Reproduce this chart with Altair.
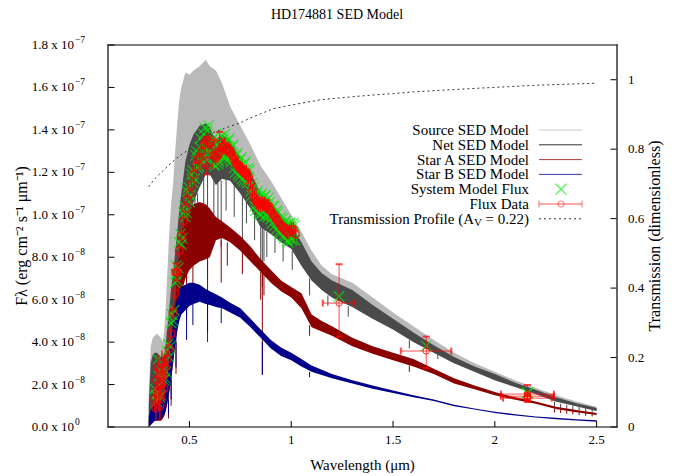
import altair as alt
import pandas as pd

# ---------------- text ----------------
TITLE = "HD174881 SED Model"
X_TITLE = "Wavelength (\u03bcm)"
Y_TITLE = "F\u03bb (erg cm\u207b\u00b2 s\u207b\u00b9 \u03bcm\u207b\u00b9)"
Y2_TITLE = "Transmission (dimensionless)"
LEGEND = ["Source SED Model", "Net SED Model", "Star A SED Model", "Star B SED Model",
          "System Model Flux", "Flux Data"]
LEG_T_MAIN = "Transmission Profile (A"
LEG_T_SUB = "V"
LEG_T_TAIL = " = 0.22)"

# ---------------- ticks ----------------
X_TICKS = [0.5, 1.0, 1.5, 2.0, 2.5]
Y_TICKS = [0, 2, 4, 6, 8, 10, 12, 14, 16, 18]          # flux in units of 1e-8
T_TICKS = [0, 0.2, 0.4, 0.6, 0.8, 1.0]
X_DOMAIN = [0.1, 2.6]
Y_DOMAIN = [0, 18]
T_DOMAIN = [0, 1.1]

# ---------------- model spectra envelopes (flux in 1e-8 erg/cm2/s/um) ----------------
LAM = [0.30, 0.31, 0.32, 0.33, 0.34, 0.35, 0.36, 0.37, 0.38, 0.39, 0.40, 0.41, 0.42, 0.43, 0.44, 0.45, 0.46,
       0.48, 0.50, 0.52, 0.55, 0.58, 0.60, 0.63, 0.66, 0.70, 0.75, 0.80, 0.85, 0.90, 0.95, 1.00,
       1.05, 1.10, 1.15, 1.20,
       1.30, 1.40, 1.50, 1.60, 1.70, 1.80, 1.90, 2.00, 2.10, 2.20, 2.30, 2.40, 2.50]
SRC_HI = [1.5, 3.8, 4.2, 4.3, 4.4, 4.3, 4.2, 4.0, 5.0, 7.0, 9.0, 10.5, 11.5, 13.0, 14.3, 15.4, 16.0,
          16.7, 16.6, 16.8, 17.0, 17.3, 17.0, 16.8, 16.2, 15.1, 14.2, 13.3, 12.3, 11.6, 10.8, 10.0,
          9.2, 8.3, 7.6, 7.2,
          6.8, 6.1, 5.4, 4.75, 4.1, 3.5, 3.0, 2.6, 2.2, 1.85, 1.5, 1.2, 0.95]
NET_HI = [1.0, 3.0, 3.4, 3.5, 3.5, 3.4, 3.3, 3.3, 3.6, 4.5, 5.5, 6.5, 7.3, 8.2, 9.2, 10.2, 11.0,
          12.5, 13.3, 13.8, 14.2, 14.3, 14.1, 13.5, 13.8, 13.5, 12.7, 12.0, 11.0, 10.6, 10.0, 9.5,
          8.7, 7.8, 7.25, 6.9,
          6.45, 5.75, 5.1, 4.45, 3.85, 3.3, 2.85, 2.5, 2.08, 1.75, 1.4, 1.12, 0.9]
NET_LO = [0.0, 0.3, 0.5, 0.7, 0.8, 0.8, 0.9, 1.0, 1.5, 2.2, 3.0, 3.8, 4.6, 5.5, 6.3, 7.0, 7.8,
          9.0, 9.8, 10.6, 11.3, 11.9, 11.9, 11.4, 11.7, 11.6, 11.0, 10.3, 9.4, 9.1, 8.7, 8.4,
          7.6, 6.9, 6.45, 6.1,
          5.65, 5.1, 4.6, 4.0, 3.5, 3.0, 2.6, 2.2, 1.88, 1.55, 1.2, 0.98, 0.75]
A_HI = [0.3, 0.6, 0.8, 1.0, 1.1, 1.1, 1.1, 1.2, 1.5, 2.2, 3.0, 4.0, 5.0, 6.2, 7.3, 8.3, 9.2,
        10.0, 10.3, 10.5, 10.6, 10.5, 10.3, 9.9, 9.7, 9.4, 9.0, 8.5, 7.9, 7.4, 6.9, 6.6,
        6.3, 5.3, 5.0, 4.75,
        4.2, 3.8, 3.5, 3.2, 2.75, 2.3, 1.95, 1.65, 1.4, 1.2, 0.95, 0.8, 0.66]
A_LO = [0.0, 0.1, 0.2, 0.3, 0.3, 0.3, 0.3, 0.4, 0.6, 1.0, 1.6, 2.2, 3.0, 3.9, 4.8, 5.6, 6.3,
        7.0, 7.4, 7.6, 7.8, 7.9, 8.0, 8.8, 8.9, 8.7, 8.3, 7.8, 7.3, 6.8, 6.4, 6.1,
        5.6, 4.7, 4.5, 4.3,
        3.8, 3.45, 3.15, 2.85, 2.5, 2.05, 1.78, 1.5, 1.28, 1.1, 0.85, 0.7, 0.57]
B_HI = [0.5, 0.8, 1.0, 1.1, 1.2, 1.3, 1.4, 1.5, 1.8, 2.4, 3.1, 4.0, 4.9, 5.6, 6.1, 6.4, 6.6,
        6.7, 6.8, 6.8, 6.7, 6.5, 6.4, 6.25, 6.1, 5.85, 5.6, 5.1, 4.6, 4.1, 3.75, 3.5,
        3.2, 2.9, 2.7, 2.5,
        2.2, 1.95, 1.72, 1.5, 1.3, 1.05, 0.87, 0.72, 0.6, 0.5, 0.43, 0.37, 0.32]
B_LO = [0.0, 0.1, 0.2, 0.3, 0.3, 0.4, 0.4, 0.5, 0.7, 1.1, 1.6, 2.3, 3.1, 3.9, 4.5, 5.0, 5.3,
        5.5, 5.7, 5.8, 5.9, 5.8, 5.75, 5.65, 5.6, 5.4, 5.15, 4.7, 4.2, 3.7, 3.35, 3.15,
        2.85, 2.6, 2.45, 2.3,
        2.05, 1.8, 1.6, 1.4, 1.22, 0.98, 0.82, 0.66, 0.54, 0.45, 0.37, 0.31, 0.25]

# absorption features (wavelength, top, bottom)
NET_SP_LAM = [0.397, 0.410, 0.434, 0.486, 0.500, 0.517, 0.527, 0.540, 0.570, 0.589, 0.620, 0.640, 0.656,
              0.680, 0.720, 0.760, 0.780, 0.820, 0.850, 0.858, 0.866, 0.880, 0.920, 0.960, 1.005, 1.09,
              1.18, 1.28, 1.58, 1.72, 2.293, 2.323, 2.353, 2.383, 2.414, 2.446, 2.478]
NET_SP_TOP = [2.5, 3.8, 5.7, 8.8, 9.8, 10.4, 10.8, 11.0, 11.8, 11.9, 11.6, 11.5, 11.6,
              11.7, 11.5, 10.9, 10.7, 10.0, 9.4, 9.4, 9.3, 9.2, 8.9, 8.6, 8.3, 7.0,
              6.2, 5.7, 4.1, 3.55, 1.2, 1.1, 1.05, 1.0, 0.97, 0.9, 0.85]
NET_SP_BOT = [1.2, 2.3, 4.0, 6.8, 8.5, 8.3, 9.0, 9.8, 9.5, 7.0, 10.0, 9.8, 8.5,
              10.2, 9.9, 8.8, 9.6, 8.8, 7.6, 6.6, 7.8, 8.0, 8.2, 7.8, 7.4, 6.2,
              5.7, 5.2, 3.7, 3.2, 0.95, 0.88, 0.85, 0.8, 0.78, 0.72, 0.68]
A_SP_LAM = [0.397, 0.410, 0.434, 0.486, 0.517, 0.589, 0.656, 0.686, 0.760, 0.850, 0.858, 0.866, 1.09, 1.58,
            2.293, 2.323, 2.353, 2.383, 2.414, 2.446, 2.478]
A_SP_TOP = [1.0, 2.2, 4.0, 7.2, 7.6, 8.0, 8.8, 8.7, 8.3, 7.3, 7.3, 7.2, 4.8, 2.9,
            0.86, 0.82, 0.78, 0.75, 0.7, 0.66, 0.62]
A_SP_BOT = [0.4, 1.0, 2.5, 5.2, 6.4, 4.0, 6.8, 7.6, 7.2, 6.0, 2.5, 6.2, 4.3, 2.6,
            0.68, 0.66, 0.62, 0.6, 0.56, 0.53, 0.5]
B_SP_LAM = [0.397, 0.410, 0.434, 0.486, 0.517, 0.589, 0.656, 0.858, 1.09]
B_SP_TOP = [1.3, 2.3, 4.0, 5.6, 5.8, 5.8, 5.6, 4.0, 2.6]
B_SP_BOT = [0.6, 1.3, 2.8, 4.1, 4.8, 4.5, 4.9, 2.45, 2.35]

# ---------------- spectrophotometric flux data + system model flux ----------------
RED_LAM = [0.330, 0.335, 0.340, 0.345, 0.350, 0.355, 0.360, 0.365, 0.370, 0.375, 0.380,
           0.39, 0.40, 0.41, 0.42, 0.43, 0.44, 0.45, 0.46, 0.47, 0.48, 0.49, 0.50,
           0.51, 0.52, 0.53, 0.54, 0.55, 0.56, 0.57, 0.58, 0.59, 0.60,
           0.61, 0.62, 0.63, 0.64, 0.65, 0.66, 0.67, 0.68, 0.69, 0.70,
           0.71, 0.72, 0.73, 0.74, 0.75, 0.76, 0.77, 0.78, 0.79, 0.80,
           0.81, 0.82, 0.83, 0.84, 0.85, 0.86, 0.87, 0.88, 0.89, 0.90,
           0.91, 0.92, 0.93, 0.94, 0.95, 0.96, 0.97, 0.98, 0.99, 1.00, 1.01, 1.02]
RED_FLUX = [1.3, 0.9, 2.2, 2.8, 1.4, 1.0, 2.0, 3.0, 2.4, 1.8, 2.8,
            3.2, 3.7, 4.4, 5.4, 6.3, 7.3, 8.3, 9.0, 9.7, 10.3, 10.7, 11.0,
            11.4, 11.9, 12.3, 12.6, 12.7, 13.0, 13.3, 13.5, 13.5, 13.4,
            13.1, 12.8, 12.7, 12.8, 13.0, 13.2, 13.2, 13.1, 13.1, 13.0,
            12.8, 12.6, 12.4, 12.3, 12.2, 12.1, 12.0, 12.0, 11.8, 11.5,
            11.1, 10.8, 10.6, 10.5, 10.5, 10.5, 10.5, 10.4, 10.4, 10.2,
            10.0, 9.9, 9.8, 9.6, 9.5, 9.4, 9.3, 9.2, 9.2, 9.3, 9.3, 9.1]
RED_ERR = [0.6, 0.6, 0.6, 0.6, 0.6, 0.6, 0.6, 0.6, 0.6, 0.6, 0.6,
           0.4, 0.4, 0.4, 0.35, 0.35, 0.35, 0.35, 0.35, 0.35, 0.35, 0.35, 0.35,
           0.35, 0.35, 0.35, 0.35, 0.35, 0.35, 0.35, 0.35, 0.35, 0.35,
           0.35, 0.35, 0.35, 0.35, 0.35, 0.35, 0.35, 0.35, 0.35, 0.35,
           0.35, 0.35, 0.35, 0.35, 0.35, 0.35, 0.35, 0.35, 0.35, 0.35,
           0.35, 0.35, 0.35, 0.35, 0.35, 0.35, 0.35, 0.35, 0.35, 0.35,
           0.35, 0.35, 0.35, 0.35, 0.35, 0.35, 0.35, 0.35, 0.35, 0.35, 0.35, 0.4]
MODEL_FLUX = [1.8, 1.5, 1.2, 3.2, 2.4, 1.4, 1.5, 2.6, 2.8, 2.2, 2.3,
              3.6, 3.3, 4.9, 5.0, 6.8, 6.9, 8.7, 8.6, 10.1, 9.9, 11.1, 10.6,
              11.9, 11.5, 12.8, 12.2, 13.2, 12.6, 13.8, 13.1, 14.0, 13.0,
              13.5, 12.4, 13.1, 12.4, 13.4, 12.8, 13.6, 12.7, 13.5, 12.6,
              13.2, 12.2, 12.8, 11.9, 12.6, 11.7, 12.4, 11.6, 12.2, 11.1,
              11.5, 10.4, 11.0, 10.1, 10.9, 10.1, 10.9, 10.0, 10.8, 9.8,
              10.4, 9.5, 10.2, 9.2, 9.9, 9.0, 9.7, 8.8, 9.6, 8.9, 9.6, 8.8]
MODEL_LAM2 = [0.385, 0.395, 0.405, 0.415, 0.425, 0.435, 0.445, 0.455, 0.465, 0.475, 0.485, 0.495,
              0.505, 0.515, 0.525, 0.535, 0.545, 0.555, 0.565, 0.575, 0.585, 0.595,
              0.605, 0.615, 0.625, 0.635, 0.645, 0.655, 0.665, 0.675, 0.685, 0.695,
              0.705, 0.715, 0.725, 0.735, 0.745, 0.755, 0.765, 0.775, 0.785, 0.795,
              0.805, 0.815, 0.825, 0.835, 0.845, 0.855, 0.865, 0.875, 0.885, 0.895,
              0.905, 0.915, 0.925, 0.935, 0.945, 0.955, 0.965, 0.975, 0.985, 0.995, 1.005, 1.015]
MODEL_FLUX2 = [2.6, 3.9, 3.8, 5.3, 5.5, 7.2, 7.5, 9.1, 8.9, 10.4, 10.1, 11.3,
               10.9, 12.1, 11.7, 13.0, 12.3, 13.6, 12.8, 14.1, 13.2, 14.2,
               12.9, 13.6, 12.3, 13.3, 12.5, 13.7, 12.7, 13.8, 12.6, 13.6,
               12.5, 13.3, 12.0, 12.9, 11.8, 12.7, 11.6, 12.5, 11.5, 12.1,
               10.9, 11.3, 10.2, 11.1, 10.0, 11.0, 9.9, 10.9, 9.9, 10.6,
               9.6, 10.4, 9.3, 10.1, 9.1, 9.8, 8.9, 9.7, 8.7, 9.6, 8.8, 9.5]

# broad-band photometry (B, V, R, J, H, Ks)
PH_LAM = [0.435, 0.585, 0.648, 1.235, 1.663, 2.16, 2.16, 2.16]
PH_LAM_LO = [0.416, 0.560, 0.623, 1.155, 1.538, 2.03, 2.03, 2.04]
PH_LAM_HI = [0.452, 0.610, 0.672, 1.310, 1.786, 2.29, 2.29, 2.28]
PH_FLUX = [7.3, 12.3, 13.5, 5.84, 3.58, 1.55, 1.45, 1.36]
PH_FLUX_LO = [6.9, 11.9, 13.1, 4.26, 2.78, 1.18, 1.30, 1.25]
PH_FLUX_HI = [7.7, 12.7, 13.9, 7.67, 4.26, 1.98, 1.60, 1.47]
PH_MODEL = [7.6, 12.6, 13.2, 6.15, 3.82, 1.60, 1.60, 1.60]

# extinction transmission profile
TR_LAM = [0.30, 0.33, 0.367, 0.40, 0.45, 0.50, 0.55, 0.584, 0.65, 0.70, 0.746, 0.80, 0.85, 0.91,
          1.00, 1.14, 1.19, 1.30, 1.40, 1.50, 1.60, 1.78, 1.90, 2.00, 2.20, 2.40, 2.50]
TR_VAL = [0.692, 0.715, 0.736, 0.755, 0.780, 0.800, 0.820, 0.840, 0.855, 0.866, 0.875, 0.890, 0.902,
          0.916, 0.927, 0.942, 0.945, 0.951, 0.956, 0.960, 0.965, 0.971, 0.975, 0.978, 0.984, 0.988, 0.990]

# ---------------- layout ----------------
W, H = 509, 382
FONT = "Liberation Serif"
FS_TICK, FS_SUP, FS_TITLE, FS_LEG, FS_AXT = 13, 9.5, 14, 15, 16
XSHAPE = "M-1,-1L1,1M-1,1L1,-1"
VCAP = "M0,-1L0,1"
HCAP = "M-1,0L1,0"
C_SRC, C_NET, C_A, C_B = "#bababa", "#4a4a4a", "#8b0000", "#00008b"
C_GREEN, C_RED = "#00ee00", "#ff0000"

x_sc = alt.Scale(domain=X_DOMAIN, nice=False, zero=False)
y_sc = alt.Scale(domain=Y_DOMAIN, nice=False, zero=False)
t_sc = alt.Scale(domain=T_DOMAIN, nice=False, zero=False)


def X(f="lam"):
    return alt.X(f"{f}:Q", scale=x_sc, axis=None)


def Y(f):
    return alt.Y(f"{f}:Q", scale=y_sc, axis=None)


ONE = pd.DataFrame({"k": [0]})

band_df = pd.DataFrame(dict(lam=LAM, src_hi=SRC_HI, net_lo=NET_LO, net_hi=NET_HI,
                            a_lo=A_LO, a_hi=A_HI, b_lo=B_LO, b_hi=B_HI))


def band(lo, hi, color):
    return alt.Chart(band_df).mark_area(color=color, clip=True).encode(
        x=X(), y=Y(lo), y2=alt.Y2(f"{hi}:Q"))


def spikes(lams, tops, bots, color):
    df = pd.DataFrame(dict(lam=lams, top=tops, bot=bots))
    return alt.Chart(df).mark_rule(color=color, strokeWidth=1).encode(
        x=X(), y=Y("bot"), y2=alt.Y2("top:Q"))


def mant_exp(v):
    # flux tick (units 1e-8) -> ("m.m x 10", "e")
    val = v * 1e-8
    if val == 0:
        return "0.0 x 10", "0"
    e = 0
    m = val
    while m >= 10:
        m /= 10
        e += 1
    while m < 1:
        m *= 10
        e -= 1
    return f"{m:.1f} x 10", f"\u2212{-e}" if e < 0 else str(e)


def text(s, x, y, size=FS_LEG, align="right", angle=0):
    return alt.Chart(ONE).mark_text(text=s, font=FONT, fontSize=size, align=align, angle=angle,
                                    baseline="middle", color="black").encode(
        x=alt.value(x), y=alt.value(y))


# tick labels drawn through the scales
ylab_df = pd.DataFrame({"v": Y_TICKS,
                        "m": [mant_exp(v)[0] for v in Y_TICKS],
                        "e": [mant_exp(v)[1] for v in Y_TICKS]})
xlab = alt.Chart(pd.DataFrame({"v": X_TICKS, "lab": [f"{v:g}" for v in X_TICKS]})).mark_text(
    font=FONT, fontSize=FS_TICK, baseline="middle", align="center", color="black").encode(
    x=alt.X("v:Q", scale=x_sc, axis=None), y=alt.value(H + 13), text="lab:N")
ylab_m = alt.Chart(ylab_df).mark_text(
    font=FONT, fontSize=FS_TICK, baseline="middle", align="right", color="black").encode(
    y=alt.Y("v:Q", scale=y_sc, axis=None), x=alt.value(-34), text="m:N")
ylab_e = alt.Chart(ylab_df).mark_text(
    font=FONT, fontSize=FS_SUP, baseline="middle", align="left", color="black", dy=-5).encode(
    y=alt.Y("v:Q", scale=y_sc, axis=None), x=alt.value(-33), text="e:N")
tlab = alt.Chart(pd.DataFrame({"v": T_TICKS, "lab": [f"{v:g}" for v in T_TICKS]})).mark_text(
    font=FONT, fontSize=FS_TICK, baseline="middle", align="left", color="black").encode(
    y=alt.Y("v:Q", scale=t_sc, axis=None), x=alt.value(W + 11), text="lab:N")

# inward tick marks
xt = alt.Chart(pd.DataFrame({"v": X_TICKS})).mark_rule(color="black").encode(
    x=alt.X("v:Q", scale=x_sc, axis=None), y=alt.value(H), y2=alt.value(H - 6))
yt = alt.Chart(pd.DataFrame({"v": Y_TICKS})).mark_rule(color="black").encode(
    y=alt.Y("v:Q", scale=y_sc, axis=None), x=alt.value(0.5), x2=alt.value(6.5))
tt = alt.Chart(pd.DataFrame({"v": T_TICKS})).mark_rule(color="black").encode(
    y=alt.Y("v:Q", scale=t_sc, axis=None), x=alt.value(W - 0.5), x2=alt.value(W - 6.5))


def bar(x0, x1, y0, y1):
    # thin filled rectangle used for the plot border
    return alt.Chart(ONE).mark_rect(color="black", opacity=1).encode(
        x=alt.value(x0), x2=alt.value(x1), y=alt.value(y0), y2=alt.value(y1))


frame = [bar(-0.6, W + 0.6, -0.6, 0.6), bar(-0.6, W + 0.6, H - 0.6, H + 0.6),
         bar(-0.6, 0.6, -0.6, H + 0.6), bar(W - 0.6, W + 0.6, -0.6, H + 0.6)]


def hline(x0, x1, y, color, dash=None):
    kw = dict(color=color, strokeWidth=1)
    if dash:
        kw["strokeDash"] = dash
    return alt.Chart(ONE).mark_rule(**kw).encode(x=alt.value(x0), x2=alt.value(x1), y=alt.value(y))


def sym(shape, x, y, color, size):
    return alt.Chart(ONE).mark_point(shape=shape, size=size, filled=False, color=color,
                                     strokeWidth=1.2).encode(x=alt.value(x), y=alt.value(y))


# data layers
red_df = pd.DataFrame(dict(lam=RED_LAM, f=RED_FLUX, m=MODEL_FLUX))
red_df["lo"] = red_df["f"] - pd.Series(RED_ERR)
red_df["hi"] = red_df["f"] + pd.Series(RED_ERR)
ph_df = pd.DataFrame(dict(lam=PH_LAM, llo=PH_LAM_LO, lhi=PH_LAM_HI, f=PH_FLUX,
                          flo=PH_FLUX_LO, fhi=PH_FLUX_HI, m=PH_MODEL))
model_df = pd.concat([red_df[["lam", "m"]], ph_df[["lam", "m"]],
                      pd.DataFrame(dict(lam=MODEL_LAM2, m=MODEL_FLUX2))])

green = alt.Chart(model_df).mark_point(
    shape=XSHAPE, size=110, filled=False, color=C_GREEN, strokeWidth=1.2).encode(x=X(), y=Y("m"))
red_err = alt.Chart(red_df).mark_rule(color=C_RED, strokeWidth=1.2).encode(
    x=X(), y=Y("lo"), y2=alt.Y2("hi:Q"))
red_pts = alt.Chart(red_df).mark_point(shape="circle", size=60, filled=False, color=C_RED,
                                       strokeWidth=1.6).encode(x=X(), y=Y("f"))
ph_v = alt.Chart(ph_df).mark_rule(color=C_RED, strokeWidth=1, opacity=0.7).encode(
    x=X(), y=Y("flo"), y2=alt.Y2("fhi:Q"))
ph_h = alt.Chart(ph_df).mark_rule(color=C_RED, strokeWidth=1, opacity=0.7).encode(
    x=X("llo"), x2=alt.X2("lhi:Q"), y=Y("f"))
ph_caps = [
    alt.Chart(ph_df).mark_point(shape=HCAP, size=49, filled=False, color=C_RED, opacity=0.7).encode(
        x=X(), y=Y("flo")),
    alt.Chart(ph_df).mark_point(shape=HCAP, size=49, filled=False, color=C_RED, opacity=0.7).encode(
        x=X(), y=Y("fhi")),
    alt.Chart(ph_df).mark_point(shape=VCAP, size=49, filled=False, color=C_RED, opacity=0.7).encode(
        x=X("llo"), y=Y("f")),
    alt.Chart(ph_df).mark_point(shape=VCAP, size=49, filled=False, color=C_RED, opacity=0.7).encode(
        x=X("lhi"), y=Y("f")),
]
ph_pts = alt.Chart(ph_df).mark_point(shape="circle", size=40, filled=False, color=C_RED,
                                     strokeWidth=1, opacity=0.8).encode(x=X(), y=Y("f"))

# legend
LX_T, LX0, LX1, LXC, LY0, LDY = 421, 431, 474, 453, 85, 14.8
ly = [LY0 + i * LDY for i in range(7)]
legend = [text(lab, LX_T, ly[i]) for i, lab in enumerate(LEGEND)]
legend += [hline(LX0, LX1, ly[0], "#c8c8c8"), hline(LX0, LX1, ly[1], "#333333"),
           hline(LX0, LX1, ly[2], "#b03a3a"), hline(LX0, LX1, ly[3], "#3a3ab0"),
           sym(XSHAPE, LXC, ly[4], C_GREEN, 120),
           hline(LX0, LX1, ly[5], "#ff5050"), sym(VCAP, LX0, ly[5], "#ff5050", 49),
           sym(VCAP, LX1, ly[5], "#ff5050", 49), sym("circle", LXC, ly[5], "#ff5050", 36),
           hline(LX0, LX1, ly[6], "#333333", [2, 3]),
           text(LEG_T_TAIL, LX_T, ly[6]),
           text(LEG_T_SUB, LX_T - 47, ly[6] + 4, size=11),
           text(LEG_T_MAIN, LX_T - 55, ly[6])]

titles = [text(TITLE, 229, -30, size=FS_TITLE, align="center"),
          text(X_TITLE, W / 2, H + 38, size=15, align="center"),
          text(Y_TITLE, -86, H / 2, size=FS_AXT, align="center", angle=270),
          text(Y2_TITLE, W + 38, H / 2, size=FS_AXT, align="center", angle=270)]

flux_group = alt.layer(
    band("net_lo", "src_hi", C_SRC),
    band("net_lo", "net_hi", C_NET),
    spikes(NET_SP_LAM, NET_SP_TOP, NET_SP_BOT, C_NET),
    band("a_lo", "a_hi", C_A),
    spikes(A_SP_LAM, A_SP_TOP, A_SP_BOT, C_A),
    band("b_lo", "b_hi", C_B),
    spikes(B_SP_LAM, B_SP_TOP, B_SP_BOT, C_B),
    green, red_err, red_pts,
    ph_v, ph_h, *ph_caps, ph_pts,
    xt, yt, xlab, ylab_m, ylab_e, *titles, *legend,
)

trans_df = pd.DataFrame(dict(lam=TR_LAM, t=TR_VAL))
trans_line = alt.Chart(trans_df).mark_line(color="#333333", strokeWidth=1, strokeDash=[2, 3]).encode(
    x=X(), y=alt.Y("t:Q", scale=t_sc, axis=None))
trans_group = alt.layer(trans_line, tt, tlab, *frame)

chart = alt.layer(flux_group, trans_group).resolve_scale(y="independent").properties(
    width=W, height=H,
    autosize=alt.AutoSizeParams(type="none"),
    padding={"left": 100, "top": 37, "right": 55, "bottom": 46},
).configure_view(strokeWidth=0)

chart.save("out.html", embed_options={"renderer": "svg", "actions": False})
